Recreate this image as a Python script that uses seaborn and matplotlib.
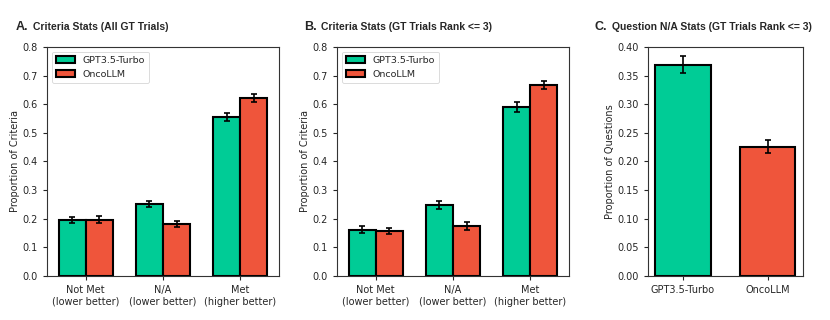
import matplotlib
matplotlib.use("Agg")
import matplotlib.pyplot as plt
import seaborn as sns
import pandas as pd
import numpy as np

categories = ["Not Met\n(lower better)", "N/A\n(lower better)", "Met\n(higher better)"]
models = ["GPT3.5-Turbo", "OncoLLM"]

a_gpt = [0.195, 0.251, 0.555]
a_onco = [0.197, 0.182, 0.621]
a_gpt_err = [0.011, 0.011, 0.014]
a_onco_err = [0.011, 0.011, 0.013]

b_gpt = [0.162, 0.247, 0.591]
b_onco = [0.158, 0.175, 0.667]
b_gpt_err = [0.012, 0.014, 0.017]
b_onco_err = [0.011, 0.013, 0.015]

c_vals = [0.369, 0.226]
c_err = [0.015, 0.012]

colors = ["#00CC96", "#EF553B"]

sns.set_style("ticks")
plt.rcParams["font.family"] = ["DejaVu Sans"]

FS = 7

fig = plt.figure(figsize=(8.3, 3.2), dpi=100)
axA = fig.add_axes([0.0566, 0.1375, 0.2795, 0.716])
axB = fig.add_axes([0.406, 0.1375, 0.2795, 0.716])
axC = fig.add_axes([0.781, 0.1375, 0.186, 0.716])

def grouped(ax, gpt, onco, gerr, oerr, letter, title, tx):
    df = pd.DataFrame({
        "cat": categories * 2,
        "model": [models[0]] * 3 + [models[1]] * 3,
        "val": gpt + onco,
    })
    sns.barplot(data=df, x="cat", y="val", hue="model", palette=colors, ax=ax,
                width=0.7, edgecolor="black", linewidth=1.5, errorbar=None,
                saturation=1)
    errs = gerr + oerr
    vals = gpt + onco
    patches = [p for p in ax.patches if p.get_height() > 0][:6]
    for p, v, e in zip(patches, vals, errs):
        ax.errorbar(p.get_x() + p.get_width() / 2, v, yerr=e, color="black",
                    capsize=2, elinewidth=1.2, capthick=1.2, fmt="none", zorder=5)
    ax.set_ylim(0, 0.8)
    ax.set_xlim(-0.5, 2.5)
    ax.set_yticks(np.arange(0, 0.81, 0.1))
    ax.set_yticklabels([f"{t:.1f}" for t in np.arange(0, 0.81, 0.1)])
    ax.set_xlabel("")
    ax.set_ylabel("Proportion of Criteria", fontsize=FS, labelpad=2)
    ax.tick_params(labelsize=FS, length=3, width=0.8)
    leg = ax.legend(loc="upper left", fontsize=6.8, frameon=True, fancybox=True,
                    handlelength=2.0, borderpad=0.45)
    leg.get_frame().set_linewidth(0.6)
    for s in ax.spines.values():
        s.set_linewidth(0.8)
        s.set_color("#333333")
    fig.text(tx, 0.905, letter, fontsize=9, fontweight="bold",
             family="Liberation Sans", va="baseline")
    fig.text(tx + 0.021, 0.905, title, fontsize=7.5, fontweight="bold",
             family="Liberation Sans", va="baseline")

grouped(axA, a_gpt, a_onco, a_gpt_err, a_onco_err, "A.",
        "Criteria Stats (All GT Trials)", 0.019)
grouped(axB, b_gpt, b_onco, b_gpt_err, b_onco_err, "B.",
        "Criteria Stats (GT Trials Rank <= 3)", 0.366)

dfc = pd.DataFrame({"model": models, "val": c_vals})
sns.barplot(data=dfc, x="model", y="val", hue="model", palette=colors, ax=axC,
            width=0.65, edgecolor="black", linewidth=1.5, errorbar=None,
            saturation=1, legend=False)
for p, v, e in zip(axC.patches, c_vals, c_err):
    axC.errorbar(p.get_x() + p.get_width() / 2, v, yerr=e, color="black",
                 capsize=2, elinewidth=1.2, capthick=1.2, fmt="none", zorder=5)
axC.set_xlim(-0.41, 1.41)
axC.set_ylim(0, 0.40)
yt = np.arange(0, 0.401, 0.05)
axC.set_yticks(yt)
axC.set_yticklabels([f"{t:.2f}" for t in yt])
axC.set_xlabel("")
axC.set_ylabel("Proportion of Questions", fontsize=FS, labelpad=2)
axC.tick_params(labelsize=FS, length=3, width=0.8)
for s in axC.spines.values():
    s.set_linewidth(0.8)
    s.set_color("#333333")
fig.text(0.716, 0.905, "C.", fontsize=9, fontweight="bold",
         family="Liberation Sans", va="baseline")
fig.text(0.737, 0.905, "Question N/A Stats (GT Trials Rank <= 3)", fontsize=7.5,
         fontweight="bold", family="Liberation Sans", va="baseline")

fig.savefig("out.png", dpi=100)
